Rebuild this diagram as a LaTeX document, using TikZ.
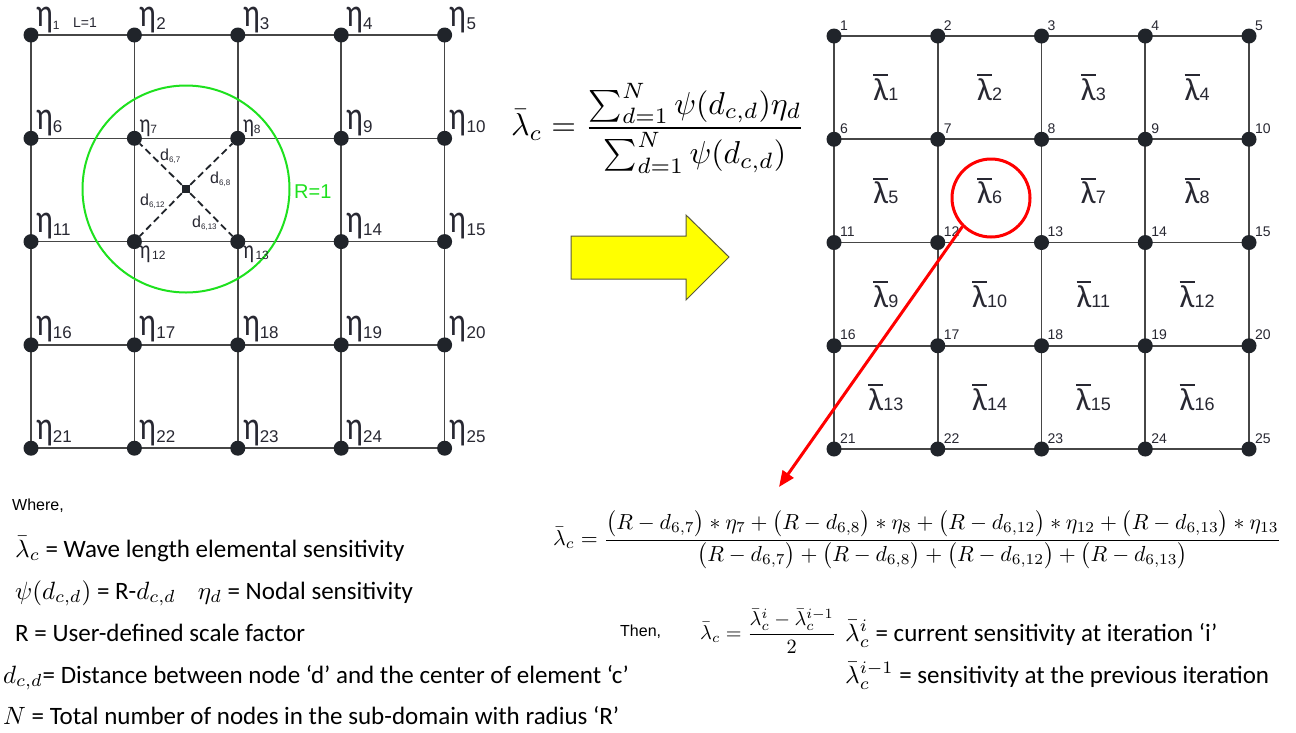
\documentclass[tikz,border=0pt]{standalone}
\usepackage{amsmath}
\usepackage{graphicx}
\usepackage[no-math]{fontspec}
\setmainfont{Carlito}
\newfontfamily\arialf{Liberation Sans}
\usetikzlibrary{arrows.meta,calc}
\definecolor{dotc}{RGB}{32,36,42}
\definecolor{gridc}{RGB}{70,70,70}
\definecolor{labc}{RGB}{40,40,50}
\definecolor{grn}{RGB}{30,225,30}
\definecolor{ylw}{RGB}{255,255,0}
\definecolor{ylwb}{RGB}{90,90,60}
\newcommand\etaB{\scalebox{0.78}[1]{\fontsize{40}{40}\selectfont η}}
\newcommand\etaS{\scalebox{0.78}[1]{\fontsize{26}{26}\selectfont η}}
\newcommand\lamB{\vbox{\hrule height 2pt\kern 2.5pt\hbox{\fontsize{32}{32}\selectfont λ}}}
\newcommand\mth[1]{\scalebox{2.5}{\normalsize$#1$}}
\tikzset{
  gline/.style={line width=1.6pt, draw=gridc},
  dotn/.style={circle, fill=dotc, inner sep=0pt, minimum size=15pt},
  etal/.style={anchor=base west, inner sep=0pt, text=labc},
  numl/.style={anchor=base west, inner sep=0pt, text=labc, font=\arialf\fontsize{14}{14}\selectfont},
  laml/.style={inner sep=0pt, text=labc},
  dline/.style={dash pattern=on 7pt off 4pt, line width=1.8pt, draw=dotc},
  dlab/.style={anchor=base west, inner sep=0pt, text=labc, font=\arialf\fontsize{16}{16}\selectfont},
  txt/.style={anchor=base west, inner sep=0pt, font=\fontsize{25}{29}\selectfont},
  smalltxt/.style={anchor=base west, inner sep=0pt, font=\arialf\fontsize{16}{18}\selectfont},
  frm/.style={anchor=west, inner sep=0pt},
}
\begin{document}
\begin{tikzpicture}[x=1pt,y=-1pt]
\fill[white] (0,0) rectangle (1296,732);
\useasboundingbox (0,0) rectangle (1296,732);
% ---------- left grid ----------
\foreach \r in {0,...,4}{
  \foreach \c in {0,...,4}{
    \pgfmathtruncatemacro\n{\r*5+\c+1}
    \coordinate (L\n) at ({31+103.4*\c},{35+103.3*\r});
  }
}
\foreach \a/\b in {1/5,6/10,11/15,16/20,21/25,1/21,2/22,3/23,4/24,5/25}
  \draw[gline] (L\a) -- (L\b);
% green circle
\coordinate (C6) at (186,189);
\draw[grn, line width=2pt] (C6) circle[radius=103.5];
\node[anchor=base west, inner sep=0pt, text=grn, font=\arialf\fontsize{20}{20}\selectfont] (Rlab) at (294,198) {R=1};
% dots
\foreach \n in {1,...,25} \node[dotn] (Ld\n) at (L\n) {};
\node[fill=dotc, minimum size=8pt, inner sep=0pt] (cdot) at (C6) {};
\foreach \n in {7,8,12,13} \draw[dline] (cdot) -- (Ld\n);
% d labels
\node[dlab] (d67) at (160,160) {d\raisebox{-2pt}{\fontsize{8}{8}\selectfont 6,7}};
\node[dlab] (d68) at (210,183) {d\raisebox{-2pt}{\fontsize{8}{8}\selectfont 6,8}};
\node[dlab] (d612) at (140,205) {d\raisebox{-2pt}{\fontsize{8}{8}\selectfont 6,12}};
\node[dlab] (d613) at (192,227) {d\raisebox{-2pt}{\fontsize{8}{8}\selectfont 6,13}};
% eta labels
\foreach \n in {2,...,6,9,10,11,14,15,...,25}
  \node[etal] (eta\n) at ($(L\n)+(5,-9)$) {\etaB\raisebox{-3pt}{\arialf\fontsize{17}{17}\selectfont\n}};
\node[etal] (eta1) at ($(L1)+(5,-9)$) {\etaB\raisebox{-3pt}{\arialf\fontsize{12}{12}\selectfont 1}};
\node[anchor=base west, inner sep=0pt, text=labc, font=\arialf\fontsize{14}{14}\selectfont] (Llab) at (73,27) {L=1};
\node[etal] (eta7) at ($(L7)+(5,-6)$) {\etaS\raisebox{-1pt}{\arialf\fontsize{12}{12}\selectfont 7}};
\node[etal] (eta8) at ($(L8)+(5,-6)$) {\etaS\raisebox{-1pt}{\arialf\fontsize{12}{12}\selectfont 8}};
\node[etal] (eta12) at ($(L12)+(5,17)$) {\etaS\,\raisebox{-1pt}{\arialf\fontsize{12}{12}\selectfont 12}};
\node[etal] (eta13) at ($(L13)+(5,17)$) {\etaS\,\raisebox{-1pt}{\arialf\fontsize{12}{12}\selectfont 13}};
% ---------- top formula ----------
\node[frm] (f1) at (511,128)
  {\resizebox{294pt}{!}{$\displaystyle\bar{\lambda}_c=\frac{\sum_{d=1}^{N}\psi(d_{c,d})\eta_d}{\sum_{d=1}^{N}\psi(d_{c,d})}$}};
% ---------- yellow arrow ----------
\draw[fill=ylw, draw=ylwb, line width=1pt] (571,236) -- (686,236) -- (686,215) -- (729,257) -- (686,300) -- (686,279) -- (571,279) -- cycle;
% ---------- right grid ----------
\foreach \r in {0,...,4}{
  \foreach \c in {0,...,4}{
    \pgfmathtruncatemacro\n{\r*5+\c+1}
    \coordinate (R\n) at ({834+103.75*\c},{36+103.25*\r});
  }
}
\foreach \a/\b in {1/5,6/10,11/15,16/20,21/25,1/21,2/22,3/23,4/24,5/25}
  \draw[gline] (R\a) -- (R\b);
\foreach \n in {1,...,25}{
  \node[dotn] (Rd\n) at (R\n) {};
  \node[numl] (Rn\n) at ($(R\n)+(6,-6)$) {\n};
}
\foreach \k in {1,...,16}{
  \pgfmathtruncatemacro\a{int((\k-1)/4)*5+mod(\k-1,4)+1}
  \pgfmathtruncatemacro\b{\a+6}
  \node[laml] (E\k) at ($(R\a)!0.5!(R\b)$) {\lamB{\arialf\fontsize{18}{18}\selectfont\k}};
}
% red circle and arrow
\node[draw=red, line width=3pt, circle, minimum size=78pt, inner sep=0pt] (redc) at (991,198) {};
\coordinate (rtip) at (779,487);
\draw[red, line width=3pt, -{Triangle[length=16pt,width=13pt]}] (redc.225) -- (rtip);
% ---------- bottom formula ----------
\node[frm] (f2) at (553,540)
  {\resizebox{728pt}{!}{$\displaystyle\bar\lambda_c=\frac{\bigl(R-d_{6,7}\bigr)\ast\eta_7+\bigl(R-d_{6,8}\bigr)\ast\eta_8+\bigl(R-d_{6,12}\bigr)\ast\eta_{12}+\bigl(R-d_{6,13}\bigr)\ast\eta_{13}}{\bigl(R-d_{6,7}\bigr)+\bigl(R-d_{6,8}\bigr)+\bigl(R-d_{6,12}\bigr)+\bigl(R-d_{6,13}\bigr)}$}};
% ---------- bottom text ----------
\node[smalltxt] (where) at (12,510) {Where,};
\node[txt] (t1) at (15,557) {\mth{\bar\lambda_c} = Wave length elemental sensitivity};
\node[txt] (t2) at (15,599) {\mth{\psi(d_{c,d})} = R-\mth{d_{c,d}}\hspace{22pt}\mth{\eta_d} = Nodal sensitivity};
\node[txt] (t3) at (15,641) {R = User-defined scale factor};
\node[txt] (t4) at (3,683) {\mth{d_{c,d}}= Distance between node ‘d’ and the center of element ‘c’};
\node[txt] (t5) at (3,724) {\mth{N} = Total number of nodes in the sub-domain with radius ‘R’};
\node[smalltxt] (then) at (620,636) {Then,};
\node[frm] (f3) at (700,631)
  {\resizebox{136pt}{!}{$\displaystyle\bar\lambda_c=\frac{\bar\lambda_c^{i}-\bar\lambda_c^{i-1}}{2}$}};
\node[txt] (t6) at (845,641) {\mth{\bar\lambda_c^{i}} = current sensitivity at iteration ‘i’};
\node[txt] (t7) at (845,683) {\mth{\bar\lambda_c^{i-1}} = sensitivity at the previous iteration};
\end{tikzpicture}
\end{document}
